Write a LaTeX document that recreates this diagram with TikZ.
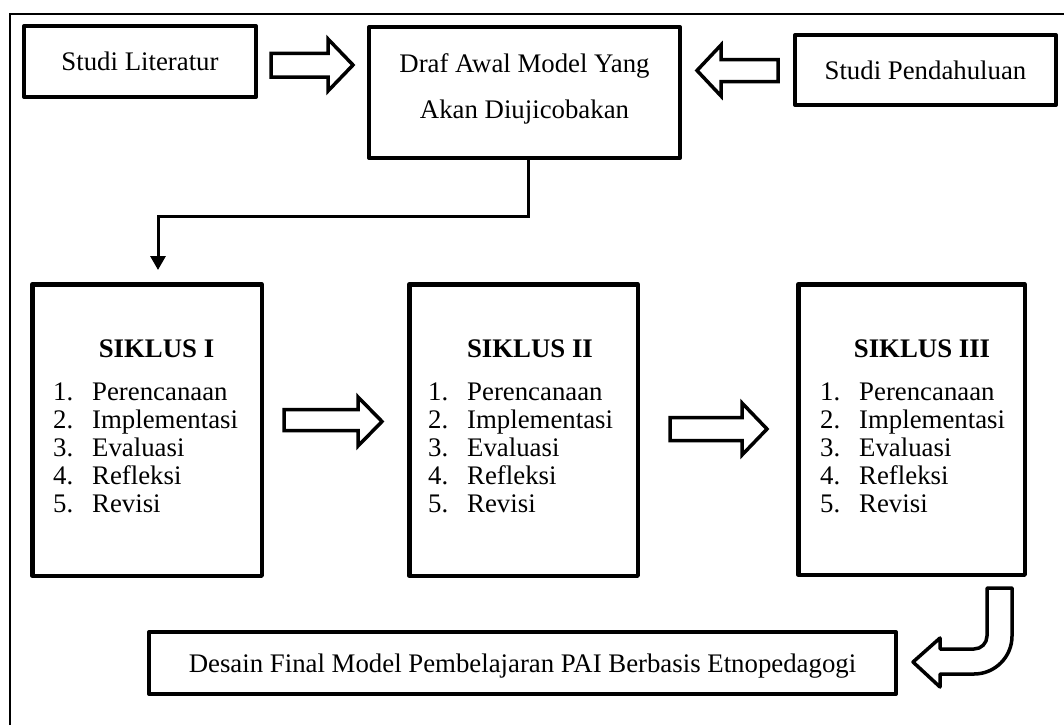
\documentclass[tikz,border=0pt]{standalone}
\usepackage{fontspec}
\setmainfont{Liberation Serif}
\usetikzlibrary{arrows.meta}
\begin{document}
\begin{tikzpicture}[x=1pt,y=-1pt,
  font=\fontsize{26.8}{28}\selectfont,
  box/.style={draw, line width=4pt, inner sep=0pt, text depth=0pt, line join=round},
  sbox/.style={draw, line width=4.5pt, inner sep=0pt, line join=round},
  blockarrow/.style={draw, line width=3.5pt, fill=white},
  curvearrow/.style={draw, line width=3.5pt, fill=white, line join=round},
  txt/.style={inner sep=0pt, anchor=base},
  item/.style={inner sep=0pt, anchor=base west},
  conn/.style={line width=3pt, -{Triangle[length=14pt,width=15pt]}},
  frame/.style={line width=2.5pt}]
\useasboundingbox (0,0) rectangle (1064,725);
% outer frame (cut by the page)
\draw[frame] (10,725) -- (10,14) -- (1064,14);

% top row
\node[box, minimum width=232, minimum height=71] (lit) at (140,61.5) {Studi Literatur};
\node[box, minimum width=311, minimum height=131] (draf) at (524.5,92.5) {};
\node[txt] (draf1) at (524.5,72) {Draf Awal Model Yang};
\node[txt] (draf2) at (524.5,118) {Akan Diujicobakan};
\node[box, minimum width=261, minimum height=70] (pend) at (925.5,70) {Studi Pendahuluan};

% block arrows of the top row
\draw[blockarrow] (271,53.5) -- (328,53.5) -- (328,39) -- (353,65) -- (328,91) -- (328,77) -- (271,77) -- cycle;
\draw[blockarrow] (778,59.5) -- (721,59.5) -- (721,45) -- (697,70.5) -- (721,96) -- (721,81.5) -- (778,81.5) -- cycle;

% cycles
\node[sbox, minimum width=229.5, minimum height=291.5] (s1) at (147,430) {};
\node[sbox, minimum width=228.5, minimum height=291.5] (s2) at (523.5,430) {};
\node[sbox, minimum width=226.5, minimum height=290.5] (s3) at (911.5,429.5) {};

\node[txt] (t1) at (156.5,357) {\textbf{SIKLUS I}};
\node[txt] (t2) at (530,357) {\textbf{SIKLUS II}};
\node[txt] (t3) at (922,357) {\textbf{SIKLUS III}};

\foreach \b/\n in {53/1,428/2,820/3}{
  \node[item] (s\n i1) at (\b,400) {\makebox[39pt][l]{1.}Perencanaan};
  \node[item] (s\n i2) at (\b,428) {\makebox[39pt][l]{2.}Implementasi};
  \node[item] (s\n i3) at (\b,456) {\makebox[39pt][l]{3.}Evaluasi};
  \node[item] (s\n i4) at (\b,484) {\makebox[39pt][l]{4.}Refleksi};
  \node[item] (s\n i5) at (\b,512) {\makebox[39pt][l]{5.}Revisi};
}

\draw[blockarrow] (284,409.5) -- (358,409.5) -- (358,397) -- (382,421.5) -- (358,446) -- (358,430.5) -- (284,430.5) -- cycle;
\draw[blockarrow] (670,417.5) -- (742,417.5) -- (742,403) -- (767,429) -- (742,455) -- (742,440.5) -- (670,440.5) -- cycle;

% connector from the draft to cycle I
\coordinate (in1) at (158,270);
\draw[conn] ([xshift=3.5pt]draf.south) -- ++(0,56) -| (in1);

% final design
\node[box, minimum width=747, minimum height=62] (final) at (522.5,663) {Desain Final Model Pembelajaran PAI Berbasis Etnopedagogi};

% curved block arrow
\draw[curvearrow] (987,588) -- (1012,588) -- (1012,636)
  .. controls (1012,657) and (995,674) .. (974,674)
  -- (940,674) -- (940,687) -- (913,662) -- (940,638) -- (940,649) -- (974,649)
  .. controls (981.2,649) and (987,643.2) .. (987,636) -- cycle;
\end{tikzpicture}
\end{document}
